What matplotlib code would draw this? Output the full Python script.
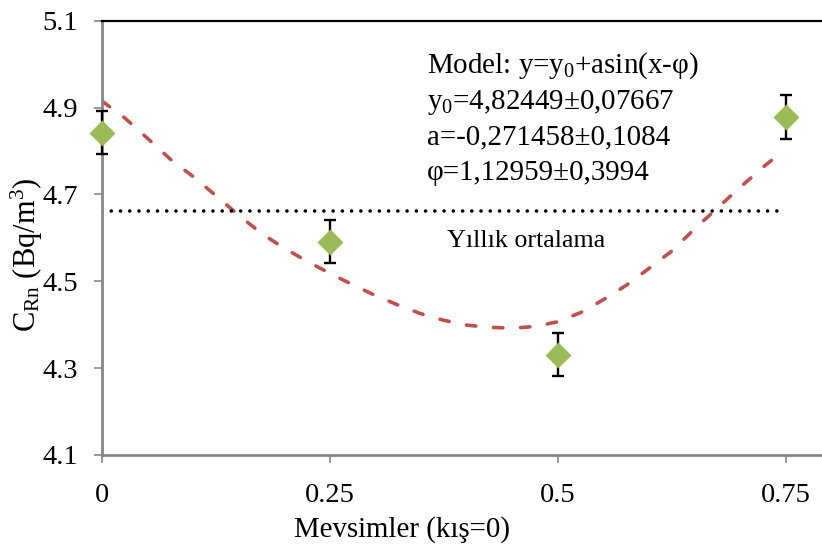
import matplotlib
matplotlib.use("Agg")
import matplotlib.pyplot as plt

plt.rcParams['font.family'] = ['Liberation Serif', 'DejaVu Serif']
plt.rcParams['mathtext.fontset'] = 'custom'
plt.rcParams['mathtext.rm'] = 'Liberation Serif'
plt.rcParams['mathtext.it'] = 'Liberation Serif:italic'

# data
seasons = [0, 0.25, 0.5, 0.75]
c_rn = [4.842, 4.591, 4.331, 4.878]
c_err = [0.049, 0.049, 0.05, 0.05]

fit_x = [0, 0.025, 0.05, 0.075, 0.1, 0.125, 0.15, 0.175, 0.2, 0.225, 0.25, 0.275,
         0.3, 0.325, 0.35, 0.375, 0.4, 0.425, 0.45, 0.475, 0.5, 0.525, 0.55, 0.575,
         0.6, 0.625, 0.65, 0.675, 0.7, 0.725, 0.745]
fit_y = [4.915, 4.876, 4.829, 4.781, 4.741, 4.697, 4.652, 4.610, 4.576, 4.546, 4.518, 4.492,
         4.467, 4.445, 4.425, 4.410, 4.399, 4.394, 4.392, 4.396, 4.407, 4.428, 4.458, 4.491,
         4.530, 4.570, 4.621, 4.669, 4.717, 4.763, 4.797]

mean_x = [0, 0.743]
mean_val = 4.661

xticks = [0, 0.25, 0.5, 0.75]
xtick_labels = ['0', '0.25', '0.5', '0.75']
yticks = [4.1, 4.3, 4.5, 4.7, 4.9, 5.1]
ytick_labels = ['4.1', '4.3', '4.5', '4.7', '4.9', '5.1']

model_lines = [r'Model: y=y$_0$+asin(x-φ)',
               r'y$_0$=4,82449±0,07667',
               'a=-0,271458±0,1084',
               'φ=1,12959±0,3994']

W, H = 822, 547
fig = plt.figure(figsize=(W/100, H/100), dpi=100)
left, right, top, bottom = 102, 822, 20.7, 455
ax = fig.add_axes([left/W, 1-bottom/H, (right-left)/W, (bottom-top)/H])

ax.plot(fit_x, fit_y, color='#C0504D', lw=2.6, dashes=(2.6, 4.9),
        dash_capstyle='round', zorder=2)
ax.plot(mean_x, [mean_val, mean_val], color='black', lw=2.6,
        dashes=(0.01, 2.55), dash_capstyle='round', zorder=2)
ax.errorbar(seasons, c_rn, yerr=c_err, fmt='D', color='#9BBB59', ms=13.5, mec='none',
            ecolor='black', elinewidth=1.7, capsize=4.3, capthick=1.7, zorder=3,
            clip_on=False)

ax.set_xlim(0, (right-left)/912)
ax.set_ylim(4.1, 5.1)
ax.set_xticks(xticks)
ax.set_xticklabels(xtick_labels)
ax.set_yticks(yticks)
ax.set_yticklabels(ytick_labels)
ax.tick_params(axis='both', direction='out', length=5.5, width=1.2, color='#868686',
               labelsize=20.5)
ax.tick_params(axis='x', pad=15)
ax.tick_params(axis='y', pad=12)

ax.spines['right'].set_visible(False)
ax.spines['top'].set_color('black')
ax.spines['top'].set_linewidth(1.6)
for s in ['left', 'bottom']:
    ax.spines[s].set_color('#868686')
    ax.spines[s].set_linewidth(2.0)

fig.text(27/W, 1-255/H, r'C$_{\mathrm{Rn}}$ (Bq/m$^{3}$)', fontsize=22, rotation=90,
         ha='center', va='center')
fig.text(402/W, 1-537/H, 'Mevsimler (kış=0)', fontsize=20.8, ha='center', va='baseline')

for i, line in enumerate(model_lines):
    fig.text(427/W, 1-(73+35.5*i)/H, line, fontsize=20.9, ha='left', va='baseline')
fig.text(447/W, 1-247/H, 'Yıllık ortalama', fontsize=18.7, ha='left', va='baseline')

fig.savefig('out.png', dpi=100)
